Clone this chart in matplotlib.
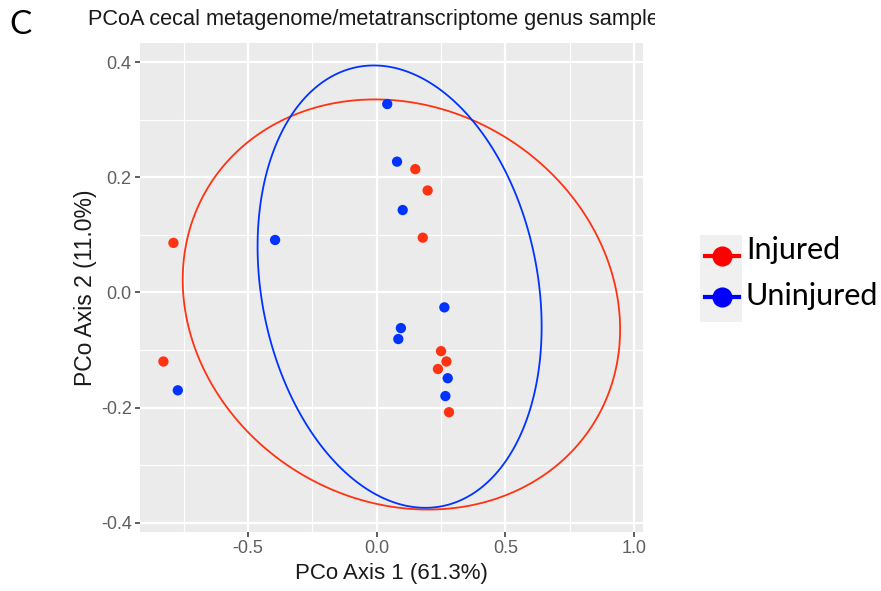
import numpy as np
import matplotlib
matplotlib.use("Agg")
import matplotlib.pyplot as plt
from matplotlib.patches import Rectangle, Polygon
from matplotlib.lines import Line2D

plt.rcParams['font.family'] = ['Liberation Sans', 'DejaVu Sans']
plt.rcParams['axes.unicode_minus'] = False

# ---- data ----
groups = ["Injured", "Uninjured"]
injured_x = [-0.790, -0.829, 0.150, 0.198, 0.179, 0.250, 0.271, 0.238, 0.281]
injured_y = [0.086, -0.120, 0.214, 0.177, 0.095, -0.102, -0.120, -0.133, -0.208]
uninjured_x = [-0.773, -0.395, 0.041, 0.079, 0.101, 0.263, 0.094, 0.084, 0.276, 0.267]
uninjured_y = [-0.170, 0.091, 0.327, 0.227, 0.143, -0.026, -0.062, -0.081, -0.149, -0.180]

# ellipse centres and shape matrices
injured_center = [0.096, -0.021]
injured_shape = [[0.850**2, -0.0367], [-0.0367, 0.356**2]]
uninjured_center = [0.089, 0.010]
uninjured_shape = [[0.552**2, -0.0384], [-0.0384, 0.384**2]]

x_ticks = [-0.5, 0.0, 0.5, 1.0]
x_tick_labels = ["-0.5", "0.0", "0.5", "1.0"]
y_ticks = [-0.4, -0.2, 0.0, 0.2, 0.4]
y_tick_labels = ["-0.4", "-0.2", "0.0", "0.2", "0.4"]

title = "PCoA cecal metagenome/metatranscriptome genus samples"
xlabel = "PCo Axis 1 (61.3%)"
ylabel = "PCo Axis 2 (11.0%)"

c_red = "#FF3311"
c_blue = "#0033FF"

W, H = 881, 591
fig = plt.figure(figsize=(W / 100, H / 100), dpi=100)
fig.patch.set_facecolor("white")

def fx(px):
    return px / W

def fy(py):
    return 1 - py / H

ax = fig.add_axes([fx(140), fy(532), (643 - 140) / W, (532 - 43) / H])
ax.set_facecolor("#EBEBEB")
ax.set_xlim(-0.920, 1.035)
ax.set_ylim(-0.416, 0.433)

ax.set_xticks(x_ticks)
ax.set_xticklabels(x_tick_labels)
ax.set_yticks(y_ticks)
ax.set_yticklabels(y_tick_labels)
ax.set_xticks([-0.75, -0.25, 0.25, 0.75], minor=True)
ax.set_yticks([-0.3, -0.1, 0.1, 0.3], minor=True)
ax.grid(which="major", color="white", linewidth=1.6)
ax.grid(which="minor", color="white", linewidth=0.8)
ax.set_axisbelow(True)
for s in ax.spines.values():
    s.set_visible(False)
ax.tick_params(which="major", length=3.5, width=1.1, color="#333333",
               labelsize=13, labelcolor="#5E5E5E", pad=2.5)
ax.tick_params(which="minor", length=0)

t = np.linspace(0, 2 * np.pi, 400, endpoint=False)
circle = np.vstack([np.cos(t), np.sin(t)])
for cen, shp, col in [(injured_center, injured_shape, c_red),
                      (uninjured_center, uninjured_shape, c_blue)]:
    L = np.linalg.cholesky(np.array(shp))
    pts = np.array(cen)[:, None] + L @ circle
    ax.add_patch(Polygon(pts.T, closed=True, fill=False, edgecolor=col,
                         linewidth=1.3, zorder=2))

ax.scatter(injured_x, injured_y, s=55, color=c_red, edgecolors="none", zorder=3)
ax.scatter(uninjured_x, uninjured_y, s=55, color=c_blue, edgecolors="none", zorder=3)

ax.set_xlabel(xlabel, fontsize=16, color="#1A1A1A", labelpad=4)
ax.set_ylabel(ylabel, fontsize=16.5, color="#1A1A1A", labelpad=2.5)

# title, clipped at the right edge like the reference
tt = fig.text(fx(88), fy(20), title, fontsize=15.7, color="#1A1A1A",
              ha="left", va="center")
clip = Rectangle((0, 0), fx(655), 1, transform=fig.transFigure)
tt.set_clip_path(clip)

fig.text(fx(9), fy(25), "C", fontsize=24, family=["Lato", "DejaVu Sans"],
         ha="left", va="center", color="black")

# legend (drawn manually)
fig.patches.append(Rectangle((fx(700), fy(322)), (742 - 700) / W, (322 - 235) / H,
                             transform=fig.transFigure, facecolor="#F0F0F0",
                             edgecolor="none", zorder=0))
for lab, col, ypx, typx in [(groups[0], "#FF0000", 256, 250),
                            (groups[1], "#0000FF", 297, 296)]:
    fig.lines.append(Line2D([fx(705), fx(739)], [fy(ypx), fy(ypx)], color=col,
                            linewidth=3, transform=fig.transFigure))
    fig.lines.append(Line2D([fx(722)], [fy(ypx)], color=col, marker="o",
                            markersize=13.5, linestyle="none",
                            transform=fig.transFigure))
    fig.text(fx(746), fy(typx), lab, fontsize=22, family=["Lato", "DejaVu Sans"],
             ha="left", va="center", color="black")

fig.savefig("out.png", dpi=100)
